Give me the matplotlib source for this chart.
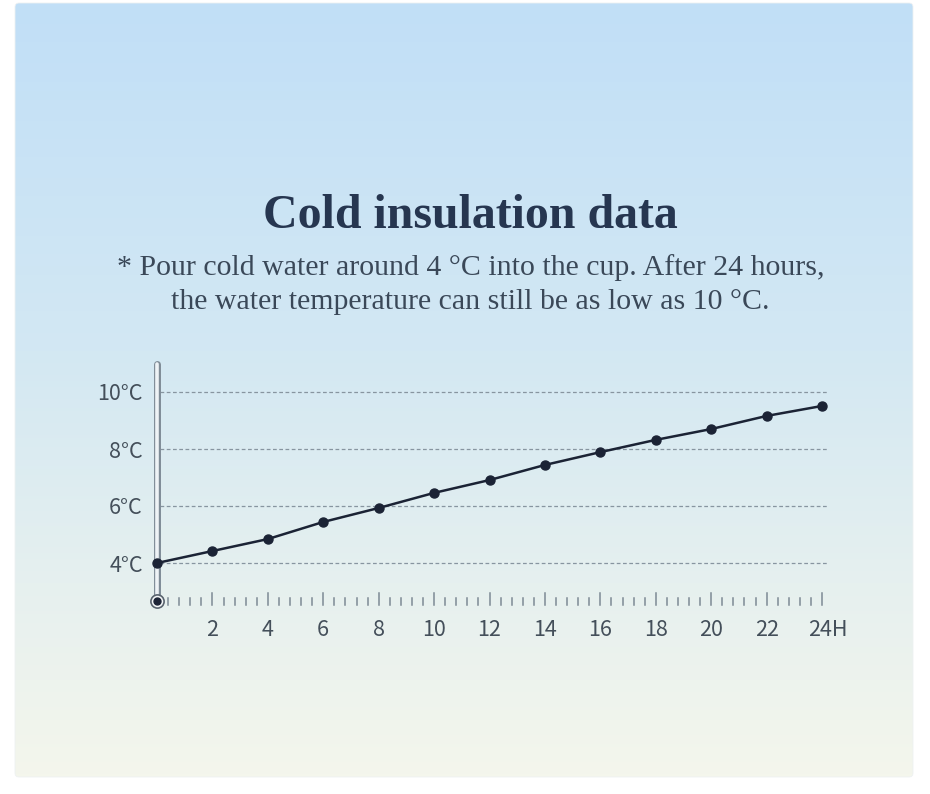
import numpy as np
import matplotlib
matplotlib.use("Agg")
import matplotlib.pyplot as plt
from matplotlib.patches import FancyBboxPatch
from matplotlib.colors import LinearSegmentedColormap

# ---- data ----
hours = [0, 2, 4, 6, 8, 10, 12, 14, 16, 18, 20, 22, 24]
temps = [4.0, 4.42, 4.84, 5.44, 5.93, 6.46, 6.91, 7.44, 7.89, 8.32, 8.70, 9.16, 9.51]
y_ticks = [4, 6, 8, 10]
y_labels = ["4°C", "6°C", "8°C", "10°C"]
x_ticks = [2, 4, 6, 8, 10, 12, 14, 16, 18, 20, 22, 24]
x_labels = ["2", "4", "6", "8", "10", "12", "14", "16", "18", "20", "22", "24H"]
title = "Cold insulation data"
subtitle = ["* Pour cold water around 4 °C into the cup. After 24 hours,",
            "the water temperature can still be as low as 10 °C."]

W, H = 930, 794
fig = plt.figure(figsize=(W / 100, H / 100), dpi=100)
fig.patch.set_facecolor("white")

# ---- background card (pixel coordinates) ----
bg = fig.add_axes([0, 0, 1, 1])
bg.set_xlim(0, W)
bg.set_ylim(H, 0)
bg.axis("off")
cmap = LinearSegmentedColormap.from_list(
    "g", [(0.0, "#c1dff7"), (0.45, "#d3e8f3"), (0.75, "#e6f0ef"), (1.0, "#f4f6ec")])
grad = np.linspace(0, 1, 256).reshape(-1, 1)
card = FancyBboxPatch((15, 3), 898, 774, boxstyle="round,pad=0,rounding_size=4",
                      facecolor="none", edgecolor="#eef1f2", lw=0.6, zorder=2)
bg.add_patch(card)
im = bg.imshow(grad, cmap=cmap, extent=[15, 913, 777, 3], aspect="auto", zorder=1)
im.set_clip_path(card)

bg.text(470, 216, title, ha="center", va="center", fontsize=34.5, fontweight="bold",
        family="Liberation Serif", color="#263650")
bg.text(471, 268, subtitle[0], ha="center", va="center", fontsize=21.5,
        family="Liberation Serif", color="#3a4858")
bg.text(470, 302, subtitle[1], ha="center", va="center", fontsize=21.5,
        family="Liberation Serif", color="#3a4858")

# ---- data axes ----
# mapping: hour 0 -> px 157, hour 24 -> px 822 ; 4°C -> px 563, 10°C -> px 392
px_per_h = (822 - 157) / 24
px_per_c = (563 - 392) / 6
left_px, right_px, top_px, bot_px = 80, 880, 350, 650
ax = fig.add_axes([left_px / W, (H - bot_px) / H, (right_px - left_px) / W, (bot_px - top_px) / H])
ax.set_xlim((left_px - 157) / px_per_h, 24 + (right_px - 822) / px_per_h)
ax.set_ylim(4 - (bot_px - 563) / px_per_c, 10 + (392 - top_px) / px_per_c)
ax.patch.set_alpha(0)
ax.axis("off")

def py(p):
    return 4 - (p - 563) / px_per_c

def px(p):
    return (p - 157) / px_per_h

# grid lines
for v in y_ticks:
    ax.plot([px(160), px(828)], [v, v], color="#8795a0", lw=0.9, ls=(0, (3, 2)), zorder=2)

# thermometer tube
ax.plot([0, 0], [py(364), py(598)], color="#7f8c97", lw=5.0, solid_capstyle="round", zorder=3)
ax.plot([0, 0], [py(364), py(598)], color="#eef3f6", lw=2.6, solid_capstyle="round", zorder=3.1)
# bulb
ax.plot([0], [py(601)], marker="o", ms=9.5, mfc="#f4f7f8", mec="#59636e", mew=1.2, zorder=4)
ax.plot([0], [py(601)], marker="o", ms=5.0, mfc="#1d2436", mec="#1d2436", zorder=4.1)

# x ticks
for k in range(1, 61):
    xv = 0.4 * k
    top = py(593) if k % 5 == 0 else py(598)
    ax.plot([xv, xv], [py(605), top], color="#7d8994", lw=1.1, zorder=2)

# data line
ax.plot(hours, temps, color="#1b2335", lw=1.8, marker="o", ms=6.5,
        mfc="#1b2335", mec="#1b2335", zorder=5, clip_on=False)

# labels
lab_font = dict(family=["Noto Sans CJK SC", "DejaVu Sans"], fontweight="light")
for v, lab in zip(y_ticks, y_labels):
    ax.text(px(143), v - 2.5 / px_per_c, lab, ha="right", va="center", fontsize=15.5,
            color="#444f5a", **lab_font)
for xv, lab in zip(x_ticks, x_labels):
    xx = xv if lab != "24H" else px(828)
    ax.text(xx, py(630), lab, ha="center", va="center", fontsize=15.5,
            color="#444f5a", **lab_font)

fig.savefig("out.png", dpi=100, facecolor="white")
